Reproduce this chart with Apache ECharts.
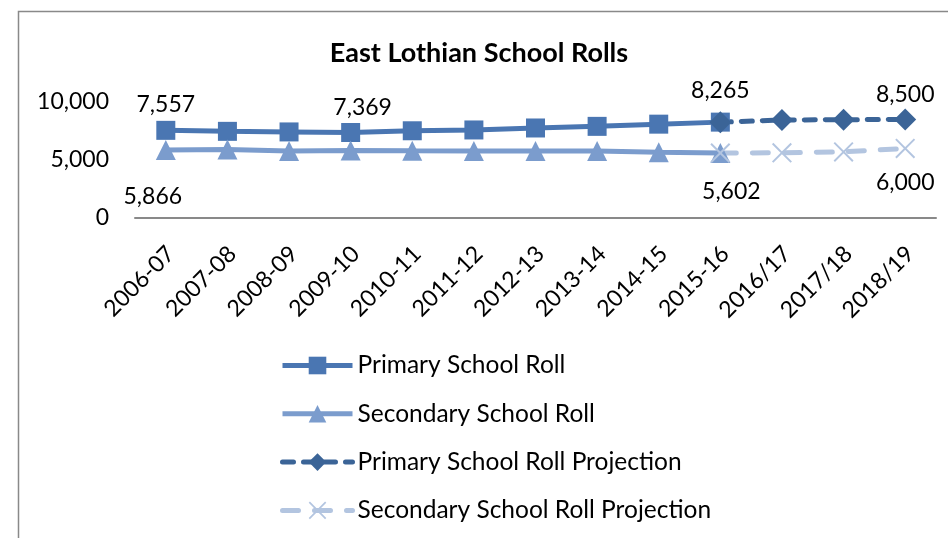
<!DOCTYPE html>
<html>
<head>
<meta charset="utf-8">
<title>East Lothian School Rolls</title>
<script src="https://cdn.jsdelivr.net/npm/echarts@6/dist/echarts.min.js"></script>
<style>
  html, body { margin: 0; padding: 0; background: #fff; }
  #main { width: 948px; height: 538px; }
</style>
</head>
<body>
<div id="main"></div>
<script>
  // chart data
  var categories = ['2006-07', '2007-08', '2008-09', '2009-10', '2010-11', '2011-12', '2012-13',
    '2013-14', '2014-15', '2015-16', '2016/17', '2017/18', '2018/19']
  var primaryRoll = [7557, 7470, 7420, 7369, 7520, 7590, 7760, 7900, 8090, 8265]
  var secondaryRoll = [5866, 5900, 5780, 5820, 5790, 5770, 5770, 5780, 5660, 5602]
  // projections start at 2015-16
  var primaryProjection = [8265, 8450, 8470, 8500]
  var secondaryProjection = [5602, 5620, 5700, 6000]
  var projectionStart = 9
  var yTicks = [0, 5000, 10000]

  var font = 'Lato, "Open Sans", sans-serif'

  function fmt (v) {
    return Number(v).toLocaleString('en-US')
  }

  // put values on the category axis, blanks elsewhere
  function place (values, start) {
    var out = []
    for (var i = 0; i < categories.length; i++) {
      var j = i - start
      out.push(j >= 0 && j < values.length ? values[j] : '-')
    }
    return out
  }

  // switch on a data label for a few points only
  function withLabels (data, labels) {
    return data.map(function (v, i) {
      if (!labels[i]) return v
      return {
        value: v,
        label: Object.assign({ show: true, formatter: function (p) { return fmt(p.value) } }, labels[i])
      }
    })
  }

  var xPath = 'path://M0,0.7L0.7,0L10,9.3L9.3,10Z M9.3,0L10,0.7L0.7,10L0,9.3Z'

  var myChart = echarts.init(document.getElementById('main'))
  var option = {
    backgroundColor: '#fff',
    animation: false,
    textStyle: { fontFamily: font },
    graphic: [{
      type: 'rect',
      silent: true,
      z: -1,
      shape: { x: 18.5, y: 11.5, width: 1000, height: 1000 },
      style: { fill: 'none', stroke: '#898989', lineWidth: 1.5 }
    }],
    title: {
      text: 'East Lothian School Rolls',
      left: 474,
      textAlign: 'center',
      top: 35,
      textStyle: { fontFamily: font, fontWeight: 'bold', fontSize: 27, color: '#000' }
    },
    legend: {
      orient: 'vertical',
      left: 280,
      top: 353,
      padding: 0,
      itemWidth: 70,
      itemHeight: 22,
      itemGap: 23.3,
      lineStyle: { width: 5 },
      textStyle: { fontFamily: font, fontSize: 24.5, color: '#000' },
      data: ['Primary School Roll', 'Secondary School Roll', 'Primary School Roll Projection', 'Secondary School Roll Projection']
    },
    grid: {
      left: 135,
      right: 12,
      top: 102,
      bottom: 320,
      containLabel: false,
      outerBoundsMode: 'none'
    },
    xAxis: {
      type: 'category',
      data: categories,
      boundaryGap: true,
      axisLine: { lineStyle: { color: '#898989', width: 2 } },
      axisTick: { show: false },
      axisLabel: {
        interval: 0,
        rotate: 45,
        margin: 37,
        padding: [0, -7, 0, 0],
        fontFamily: font,
        fontSize: 23,
        color: '#000'
      }
    },
    yAxis: {
      type: 'value',
      min: yTicks[0],
      max: yTicks[yTicks.length - 1],
      interval: yTicks[1] - yTicks[0],
      axisLine: { show: false },
      axisTick: { show: false },
      splitLine: { show: false },
      axisLabel: { margin: 26, fontFamily: font, fontSize: 23, color: '#000', formatter: fmt }
    },
    series: [
      {
        name: 'Primary School Roll',
        type: 'line',
        symbol: 'rect',
        symbolSize: 19,
        color: '#4A76B2',
        lineStyle: { width: 5, color: '#4A76B2' },
        label: { fontFamily: font, fontSize: 23, color: '#000' },
        data: withLabels(place(primaryRoll, 0), {
          0: { position: 'top', offset: [0, 0] },
          3: { position: 'top', offset: [12, 1] },
          9: { position: 'top', offset: [0, -6] }
        })
      },
      {
        name: 'Secondary School Roll',
        type: 'line',
        symbol: 'triangle',
        symbolSize: 20,
        color: '#7B9CCD',
        lineStyle: { width: 5, color: '#7B9CCD' },
        label: { fontFamily: font, fontSize: 23, color: '#000' },
        data: withLabels(place(secondaryRoll, 0), {
          0: { position: 'bottom', offset: [-13, 20] },
          9: { position: 'bottom', offset: [11, 12] }
        })
      },
      {
        name: 'Primary School Roll Projection',
        type: 'line',
        symbol: 'diamond',
        symbolSize: 22,
        color: '#3B6497',
        lineStyle: { width: 5, color: '#3B6497', type: [11, 10], cap: 'round' },
        label: { fontFamily: font, fontSize: 23, color: '#000' },
        data: withLabels(place(primaryProjection, projectionStart), {
          12: { position: 'top', offset: [0, 3] }
        })
      },
      {
        name: 'Secondary School Roll Projection',
        type: 'line',
        symbol: xPath,
        symbolSize: 20,
        color: '#B3C5E0',
        lineStyle: { width: 5, color: '#B3C5E0', type: [16, 16], cap: 'round' },
        label: { fontFamily: font, fontSize: 23, color: '#000' },
        data: withLabels(place(secondaryProjection, projectionStart), {
          12: { position: 'bottom', offset: [0, 8] }
        })
      }
    ]
  }
  myChart.setOption(option)
</script>
</body>
</html>
